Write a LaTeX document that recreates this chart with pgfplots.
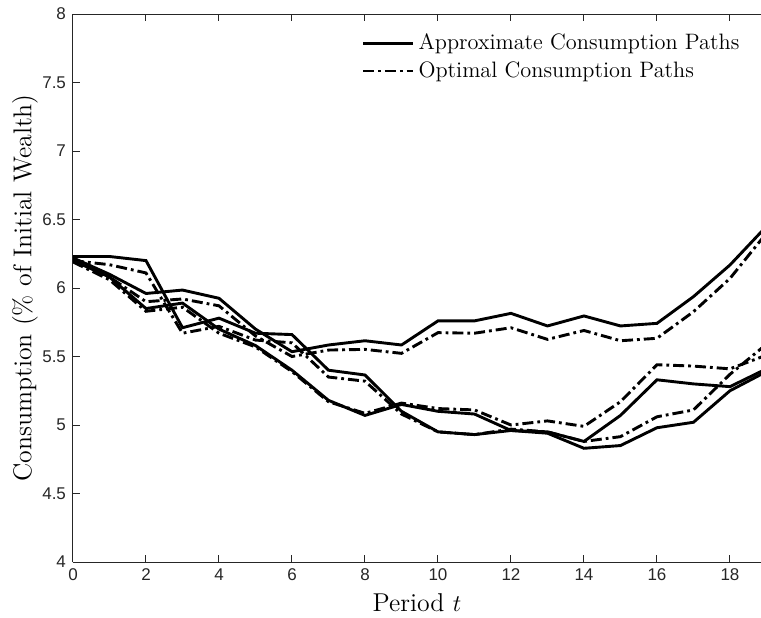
\documentclass[border=0pt]{standalone}
\usepackage{fontspec}
\usepackage{pgfplots}
\usepackage{pgfplotstable}
\pgfplotsset{compat=1.18}
\newfontfamily\ticksans{Liberation Sans}
\definecolor{axisgray}{gray}{0.15}

% Consumption paths: approximate (a, b, c) and optimal (da, db, dc)
\pgfplotstableread{
t   a     da    b     db    c     dc
0   6.23  6.20  6.22  6.21  6.20  6.19
1   6.23  6.17  6.10  6.08  6.08  6.06
2   6.20  6.11  5.96  5.90  5.85  5.83
3   5.71  5.67  5.985 5.92  5.89  5.86
4   5.78  5.72  5.925 5.87  5.70  5.67
5   5.67  5.62  5.70  5.65  5.58  5.57
6   5.66  5.60  5.535 5.50  5.40  5.39
7   5.40  5.35  5.584 5.547 5.18  5.17
8   5.365 5.32  5.615 5.552 5.07  5.085
9   5.10  5.08  5.584 5.523 5.15  5.16
10  4.95  4.95  5.76  5.674 5.10  5.12
11  4.93  4.93  5.76  5.67  5.08  5.11
12  4.96  4.97  5.815 5.71  4.96  5.00
13  4.94  4.95  5.723 5.625 4.95  5.03
14  4.83  4.88  5.796 5.69  4.88  4.99
15  4.85  4.915 5.723 5.615 5.07  5.17
16  4.98  5.06  5.742 5.633 5.33  5.44
17  5.02  5.11  5.937 5.827 5.30  5.43
18  5.25  5.37  6.168 6.07  5.28  5.41
19  5.39  5.59  6.45  6.40  5.41  5.51
}\paths

\begin{document}
\begin{tikzpicture}
\useasboundingbox (-36.5pt,-27.5pt) rectangle (344pt,281pt);
\begin{axis}[
  at={(0,0)}, anchor=south west,
  scale only axis, width=344pt, height=274pt,
  xmin=0, xmax=18.85, ymin=4, ymax=8,
  axis x line*=box, axis y line*=left,
  xtick={0,2,...,18}, ytick={4,4.5,...,8},
  xtick pos=both, ytick pos=left,
  tick align=inside, major tick length=3.5pt,
  axis line style={axisgray, line width=0.5pt},
  tick style={axisgray, line width=0.5pt},
  ticklabel style={font=\ticksans\fontsize{8.5}{10}\selectfont, text=axisgray},
  /pgf/number format/assume math mode=true,
  xlabel={Period $t$},
  ylabel={Consumption (\% of Initial Wealth)},
  label style={font=\fontsize{12.9}{15}\selectfont},
  xlabel style={at={(axis description cs:0.5,-0.0748)}, anchor=center},
  ylabel style={at={(axis description cs:-0.0698,0.5)}, anchor=center},
  legend style={at={(axis description cs:0.419,0.972)}, anchor=north west,
    draw=none, fill=none, font=\fontsize{11.15}{13}\selectfont,
    row sep=0.5pt, inner sep=0pt},
  legend cell align=left,
  legend image code/.code={\draw[#1] (0pt,0pt) -- (25pt,0pt);},
  every axis plot/.append style={black, line width=1.45pt},
  clip=true,
]
\addplot[solid] table[x=t, y=a] {\paths};
\addlegendentry{Approximate Consumption Paths}
\addplot[dash pattern=on 5.5pt off 2pt on 1.4pt off 2pt] table[x=t, y=da] {\paths};
\addlegendentry{Optimal Consumption Paths}
\addplot[solid, forget plot] table[x=t, y=b] {\paths};
\addplot[dash pattern=on 5.5pt off 2pt on 1.4pt off 2pt, forget plot] table[x=t, y=db] {\paths};
\addplot[solid, forget plot] table[x=t, y=c] {\paths};
\addplot[dash pattern=on 5.5pt off 2pt on 1.4pt off 2pt, forget plot] table[x=t, y=dc] {\paths};
\end{axis}
\end{tikzpicture}
\end{document}
